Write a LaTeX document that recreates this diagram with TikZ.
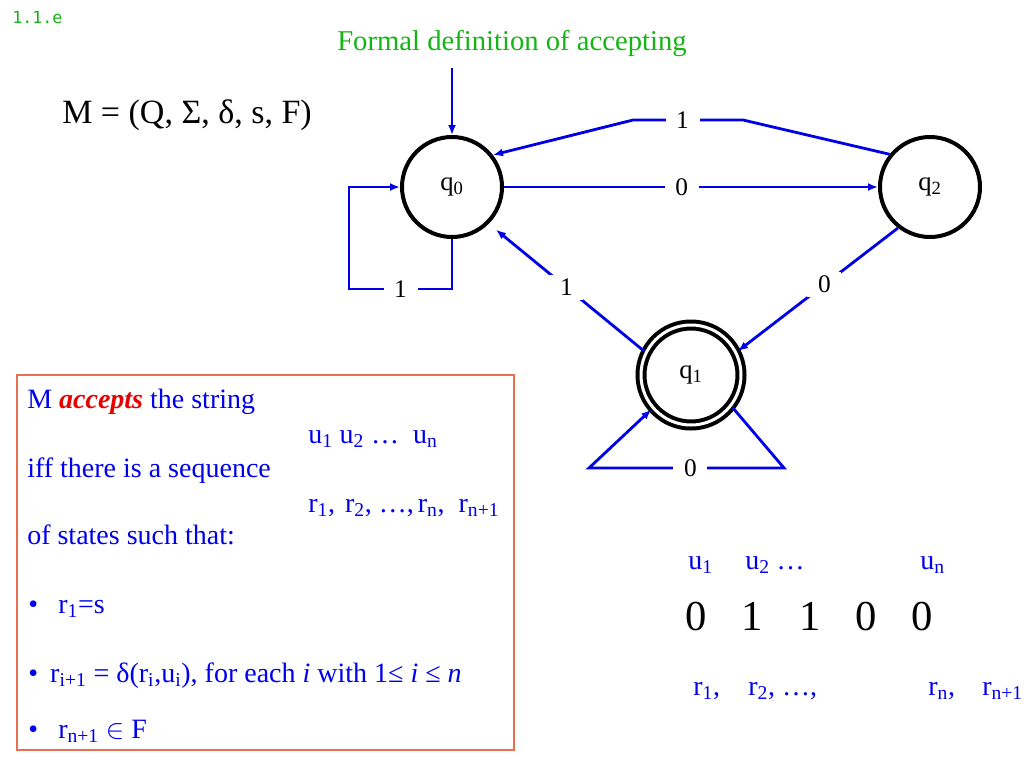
\documentclass[tikz,border=0pt]{standalone}
\usepackage{fontspec}
\setmainfont{Liberation Serif}
\newfontfamily\monofont{DejaVu Sans Mono}
\usetikzlibrary{arrows.meta}
\definecolor{edgeblue}{RGB}{0,0,230}
\definecolor{textblue}{RGB}{0,0,235}
\definecolor{headgreen}{RGB}{20,180,20}
\definecolor{boxred}{RGB}{235,110,80}
\definecolor{wordred}{RGB}{230,0,0}
\tikzset{
  state/.style={circle,draw=black,line width=3pt,minimum size=75pt,inner sep=0pt,font=\fontsize{20}{24}\selectfont},
  accstate/.style={state,double,double distance=2.25pt,outer sep=2pt},
  edge/.style={draw=edgeblue,line width=2.1pt,-{Latex[length=7.5pt,width=6pt]}},
  lbl/.style={fill=white,inner xsep=8pt,inner ysep=3pt,font=\fontsize{19}{23}\selectfont},
  bluetext/.style={anchor=base west,inner sep=0pt,text=textblue,font=\fontsize{21}{25}\selectfont},
  bigdigit/.style={anchor=base,inner sep=0pt,font=\fontsize{32}{38}\selectfont},
}

\begin{document}
\begin{tikzpicture}[x=0.75pt,y=0.75pt,yscale=-1,xscale=1]
                \useasboundingbox (0,0) rectangle (1024,768);
                % headings
                \draw (12,23) node [anchor=base west][inner sep=0pt][text=headgreen,font=\monofont\fontsize{12.5}{15}\selectfont] (secno) {1.1.e};
                \draw (512,50) node [anchor=base][inner sep=0pt][text=headgreen,font=\fontsize{21.5}{26}\selectfont] (heading) {Formal definition of accepting};
                \draw (62,123) node [anchor=base west][inner sep=0pt][font=\fontsize{25.5}{30}\selectfont] (tuple) {M = (Q, Σ, δ, s, F)};
                % states
                \node [state] (q0) at (452,187) {q\textsubscript{0}};
                \node [state] (q2) at (930,187) {q\textsubscript{2}};
                \node [accstate] (q1) at (691,375) {q\textsubscript{1}};
                \coordinate (init) at (452,68);
                % transitions
                \draw [edge] (init) -- (q0.north);
                \draw [edge] (q0.south) -- ++(0,50) -- ++(-103,0) node [midway,lbl] {1} |- (q0.west);
                \draw [edge] (q0) -- node [lbl,pos=.475] {0} (q2);
                \draw [edge] (q2.141) -- (743,120) -- node [lbl,pos=.55] {1} (633,120) -- (q0.38);
                \draw [edge,shorten >=7pt] (q1.153) -- node [lbl,pos=.5] {1} (q0.-45);
                \draw [edge] (q2.-128) -- node [lbl,pos=.46] {0} (q1.27);
                \draw [edge] (q1.-38) -- (784,468) -- node [lbl,pos=.48] {0} (589,468) -- (q1.-139);
                % definition box
                \draw [draw=boxred,line width=1pt] (17,375) rectangle (514,750);
                \draw (27,408) node [bluetext] (acc) {M \textbf{\textit{\color{wordred}accepts}} the string};
                \draw (308,443) node [bluetext] (useq) {u\textsubscript{1} u\textsubscript{2}\ … \ u\textsubscript{n}};
                \draw (27,477) node [bluetext] (iff) {iff there is a sequence};
                \draw (308,512) node [bluetext] (rseq) {r\textsubscript{1},\hspace{7.5pt}r\textsubscript{2}, …,\hspace{3pt}r\textsubscript{n},\ \ r\textsubscript{n+1}};
                \draw (27,544) node [bluetext] (ofst) {of states such that:};
                \draw (28,613) node [bluetext] (cond1) {\makebox[22.5pt][l]{•}r\textsubscript{1}=s};
                \draw (28,682) node [bluetext] (cond2) {\makebox[16.5pt][l]{•}r\textsubscript{i+1} = δ(r\textsubscript{i},u\textsubscript{i}), for each \textit{i} with 1≤ \textit{i} ≤ \textit{n}};
                \draw (28,738) node [bluetext] (cond3) {\makebox[22.5pt][l]{•}r\textsubscript{n+1} $\in$ F};
                % example run
                \draw (688,569) node [bluetext] (u1) {u\textsubscript{1}};
                \draw (745,569) node [bluetext] (u2) {u\textsubscript{2} …};
                \draw (920,569) node [bluetext] (un) {u\textsubscript{n}};
                \foreach \d/\x [count=\i] in {0/696,1/752,1/810,0/866,0/922}
                  \node [bigdigit] (w\i) at (\x,630) {\d};
                \draw (693,695) node [bluetext] (r1) {r\textsubscript{1},};
                \draw (748,695) node [bluetext] (r2) {r\textsubscript{2}, …,};
                \draw (928,695) node [bluetext] (rn) {r\textsubscript{n},};
                \draw (982,695) node [bluetext] (rn1) {r\textsubscript{n+1}};
            \end{tikzpicture}
\end{document}
